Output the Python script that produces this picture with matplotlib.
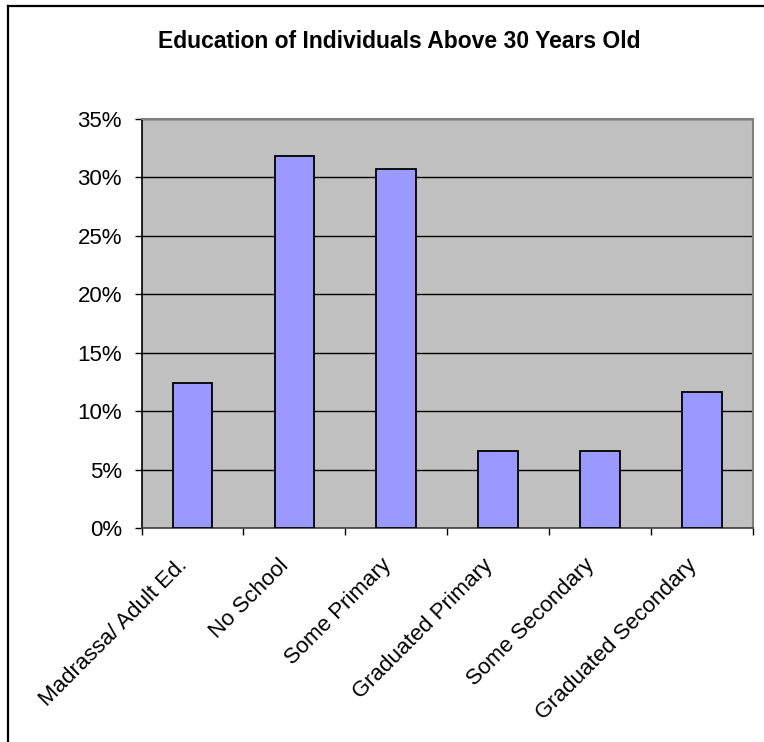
import matplotlib
matplotlib.use("Agg")
import matplotlib.pyplot as plt
from matplotlib.lines import Line2D
from matplotlib.ticker import FuncFormatter, MultipleLocator, NullFormatter

categories = ["Madrassa/ Adult Ed.", "No School", "Some Primary",
              "Graduated Primary", "Some Secondary", "Graduated Secondary"]
shares = [12.4, 31.8, 30.7, 6.6, 6.6, 11.6]  # percent of individuals
title = "Education of Individuals Above 30 Years Old"

plt.rcParams["font.family"] = ["Liberation Sans", "DejaVu Sans"]

W, H = 764, 742
fig = plt.figure(figsize=(W / 100, H / 100), dpi=100)
fig.patch.set_facecolor("white")

# chart-area frame (left and top edges visible)
fig.add_artist(Line2D([8 / W, 8 / W], [0, 1 - 6 / H], transform=fig.transFigure,
                      color="black", lw=1.6))
fig.add_artist(Line2D([8 / W, 1], [1 - 6 / H, 1 - 6 / H], transform=fig.transFigure,
                      color="black", lw=1.6))

left, right, top, bottom = 141.5, 753, 119, 528
ax = fig.add_axes([left / W, 1 - bottom / H, (right - left) / W, (bottom - top) / H])
ax.set_facecolor("#C0C0C0")

x = list(range(len(categories)))
ax.bar(x, shares, width=0.39, color="#9999FF", edgecolor="black", linewidth=1.3, zorder=3)

ax.set_xlim(-0.5, len(categories) - 0.5)
ax.set_ylim(0, 35)
ax.yaxis.set_major_locator(MultipleLocator(5))
ax.yaxis.set_major_formatter(FuncFormatter(lambda v, p: f"{v:.0f}%"))
ax.grid(axis="y", color="black", linewidth=1.0, zorder=1)
ax.set_axisbelow(True)

# category boundary ticks on the x axis, labels placed under each bar
ax.set_xticks([i - 0.5 for i in range(len(categories) + 1)])
ax.xaxis.set_major_formatter(NullFormatter())
for i, name in zip(x, categories):
    ax.annotate(name, xy=(i, 0), xycoords=("data", "axes fraction"),
                xytext=(-16, -27), textcoords="offset pixels",
                rotation=45, ha="right", va="top", rotation_mode="anchor",
                fontsize=16, annotation_clip=False)
ax.tick_params(axis="x", length=5, width=1, color="black")
ax.tick_params(axis="y", length=5, width=1, pad=9, labelsize=16, color="black")

for side in ("top", "right"):
    ax.spines[side].set_color("#808080")
    ax.spines[side].set_linewidth(1.5)
ax.spines["left"].set_color("black")
ax.spines["bottom"].set_color("#404040")
ax.spines["left"].set_linewidth(1.2)
ax.spines["bottom"].set_linewidth(1.2)

fig.text(399 / W, 1 - 41 / H, title, ha="center", va="center",
         fontsize=16.5, fontweight="bold")

fig.savefig("out.png", dpi=100)
